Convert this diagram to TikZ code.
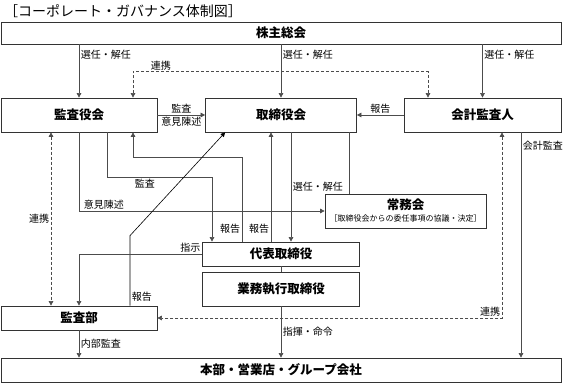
\documentclass[tikz,border=0pt]{standalone}
\usepackage{fontspec}
\setmainfont{Noto Sans CJK JP}
\usetikzlibrary{arrows.meta}

\begin{document}
\begin{tikzpicture}[
    x=1pt, y=1pt,
    box/.style={draw=black!80, line width=0.7pt, fill=white, inner sep=0pt,
                font=\fontsize{12.5}{14}\selectfont\bfseries, align=center},
    lbl/.style={font=\fontsize{10}{11}\selectfont, inner sep=1.5pt},
    title/.style={font=\fontsize{14}{15}\selectfont, inner sep=0pt},
    arr/.style={-{Triangle[length=4.5pt, width=4.5pt]}, line width=0.6pt, draw=black!70},
    link/.style={{Triangle[length=4.5pt, width=4.5pt]}-{Triangle[length=4.5pt, width=4.5pt]},
                line width=0.6pt, draw=black!70, dash pattern=on 3pt off 2pt},
    conn/.style={line width=0.6pt, draw=black!70}
]
    \useasboundingbox (0,0) rectangle (566,383);

    \node[title, anchor=west] (zu) at (4,372) {［コーポレート・ガバナンス体制図］};

    \node[box, minimum width=560pt, minimum height=22pt] (kabunushi) at (281,350) {株主総会};
    \node[box, minimum width=156pt, minimum height=34pt] (kansayaku) at (79,268) {監査役会};
    \node[box, minimum width=151pt, minimum height=34pt] (torishimari) at (281,268) {取締役会};
    \node[box, minimum width=157pt, minimum height=34pt] (kaikei) at (482.5,268) {会計監査人};
    \node[box, minimum width=161pt, minimum height=34pt] (jomu) at (405.5,172)
        {常務会\\[-2pt]{\fontsize{8}{9}\selectfont\mdseries ［取締役会からの委任事項の協議・決定］}};
    \node[box, minimum width=157pt, minimum height=24pt] (daihyo) at (281,129) {代表取締役};
    \node[box, minimum width=157pt, minimum height=34pt] (gyomu) at (281,94) {業務執行取締役};
    \node[box, minimum width=156pt, minimum height=24pt] (kansabu) at (79,65) {監査部};
    \node[box, minimum width=560pt, minimum height=24pt] (honbu) at (281,13) {本部・営業店・グループ会社};

    \draw[arr] (kansayaku.north |- kabunushi.south) -- node[lbl, right, pos=0.2]{選任・解任} (kansayaku.north);
    \draw[arr] (torishimari.north |- kabunushi.south) -- node[lbl, right, pos=0.2]{選任・解任} (torishimari.north);
    \draw[arr] (kaikei.north |- kabunushi.south) -- node[lbl, right, pos=0.2]{選任・解任} (kaikei.north);
    \draw[link] ([xshift=54]kansayaku.north) -- ++(0,26) node[lbl, above right, xshift=16pt]{連携} -| ([xshift=-54.5]kaikei.north);

    \draw[arr] (kansayaku.east) -- node[lbl, above]{監査} node[lbl, below]{意見陳述} (torishimari.west);
    \draw[arr] (kaikei.west) -- node[lbl, above]{報告} (torishimari.east);

    \draw[arr] (kansayaku.south) |- node[lbl, above right, pos=0.5, xshift=3pt]{意見陳述} (jomu.west);
    \draw[arr] ([xshift=28]kansayaku.south) -- ++(0,-45) -| node[lbl, below, pos=0.18]{監査} ([xshift=-69]daihyo.north);
    \draw[arr] ([xshift=-39]daihyo.north) -- node[lbl, left, pos=0.15]{報告} ++(0,84) -| ([xshift=54]kansayaku.south);
    \draw[arr] ([xshift=-10]daihyo.north) -- node[lbl, left, pos=0.12]{報告} ([xshift=-10]torishimari.south);
    \draw[arr] ([xshift=10]torishimari.south) -- node[lbl, right]{選任・解任} ([xshift=10]daihyo.north);
    \draw[conn] ([xshift=68]torishimari.south) -- ([xshift=-56.5]jomu.north);
    \draw[arr, draw=black] ([xshift=51]kansabu.north) -- node[lbl, right, pos=0.13]{報告} ++(0,70) -- ([xshift=20]torishimari.south west);
    \draw[arr] (daihyo.west) -| node[lbl, above left, pos=0]{指示} (kansabu.north);

    \draw[link] ([xshift=-28]kansayaku.south) -- node[lbl, left]{連携} ([xshift=-28]kansabu.north);
    \draw[link] ([xshift=19.5]kaikei.south) |- node[lbl, above left, pos=0.5]{連携} (kansabu.east);
    \draw[arr] ([xshift=38.5]kaikei.south) -- node[lbl, right, pos=0.06]{会計監査} ([xshift=240]honbu.north);

    \draw[conn] (daihyo.south) -- (gyomu.north);
    \draw[arr] (gyomu.south) -- node[lbl, right]{指揮・命令} (honbu.north);
    \draw[arr] (kansabu.south) -- node[lbl, right]{内部監査} (kansabu.south |- honbu.north);
\end{tikzpicture}
\end{document}
